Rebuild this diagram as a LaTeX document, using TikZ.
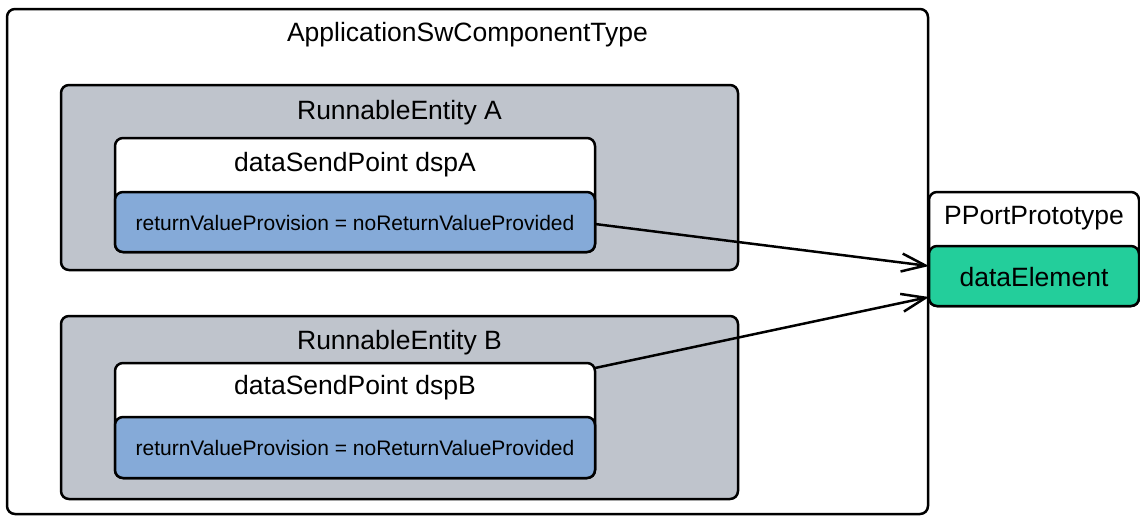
\documentclass[tikz,border=0pt]{standalone}
\usepackage{fontspec}
\setmainfont{Liberation Sans}
\usetikzlibrary{arrows.meta,calc}
\definecolor{regrey}{RGB}{191,196,204}
\definecolor{valblue}{RGB}{133,170,216}
\definecolor{elgreen}{RGB}{35,206,155}
\begin{document}
\begin{tikzpicture}[x=1pt,y=1pt,
  box/.style={draw=black, line width=2.5pt, rounded corners=8pt, anchor=north west, inner sep=0pt, outer sep=0pt},
  big/.style={font=\fontsize{26.5}{30}\selectfont, anchor=base, inner sep=0pt},
  small/.style={font=\fontsize{21}{24}\selectfont, anchor=base, inner sep=0pt},
  link/.style={line width=2.5pt, -{Straight Barb[length=24pt,width=18pt,line width=2.5pt]}}
]
\useasboundingbox (0,0) rectangle (1140,-515);
% outer component
\node[box, fill=white, minimum width=921pt, minimum height=505pt] (app) at (7,-9) {};
\node[big] (apptitle) at (467.5,-41) {ApplicationSwComponentType};
% Runnable A
\node[box, fill=regrey, minimum width=677pt, minimum height=185pt] (reA) at (61,-85) {};
\node[big] (reAtitle) at (399.5,-119) {RunnableEntity A};
\node[box, fill=white, minimum width=480pt, minimum height=114pt] (dspA) at (115,-138) {};
\node[big] (dspAtitle) at (355,-171) {dataSendPoint dspA};
\node[box, fill=valblue, minimum width=480pt, minimum height=60pt] (valA) at (115,-192) {};
\node[small] (valAtext) at (355,-230) {returnValueProvision = noReturnValueProvided};
% Runnable B
\node[box, fill=regrey, minimum width=677pt, minimum height=183pt] (reB) at (61,-316) {};
\node[big] (reBtitle) at (399.5,-349) {RunnableEntity B};
\node[box, fill=white, minimum width=480pt, minimum height=115pt] (dspB) at (115,-363) {};
\node[big] (dspBtitle) at (355,-394) {dataSendPoint dspB};
\node[box, fill=valblue, minimum width=480pt, minimum height=61pt] (valB) at (115,-417) {};
\node[small] (valBtext) at (355,-455) {returnValueProvision = noReturnValueProvided};
% Port
\node[box, fill=white, minimum width=210pt, minimum height=114pt] (pport) at (929,-192) {};
\node[big] (pporttitle) at (1034,-224) {PPortPrototype};
\node[box, fill=elgreen, minimum width=210pt, minimum height=60pt] (elem) at (929,-246) {};
\node[big] (elemtext) at (1034,-286) {dataElement};
% connectors
\coordinate (inA) at ($(elem.west)+(0,10)$);
\coordinate (inB) at ($(elem.west)+(0,-21)$);
\draw[link] ($(valA.east)+(0,-2)$) -- (inA);
\draw[link] ($(dspB.north east)+(0,-5)$) -- (inB);
\end{tikzpicture}
\end{document}
